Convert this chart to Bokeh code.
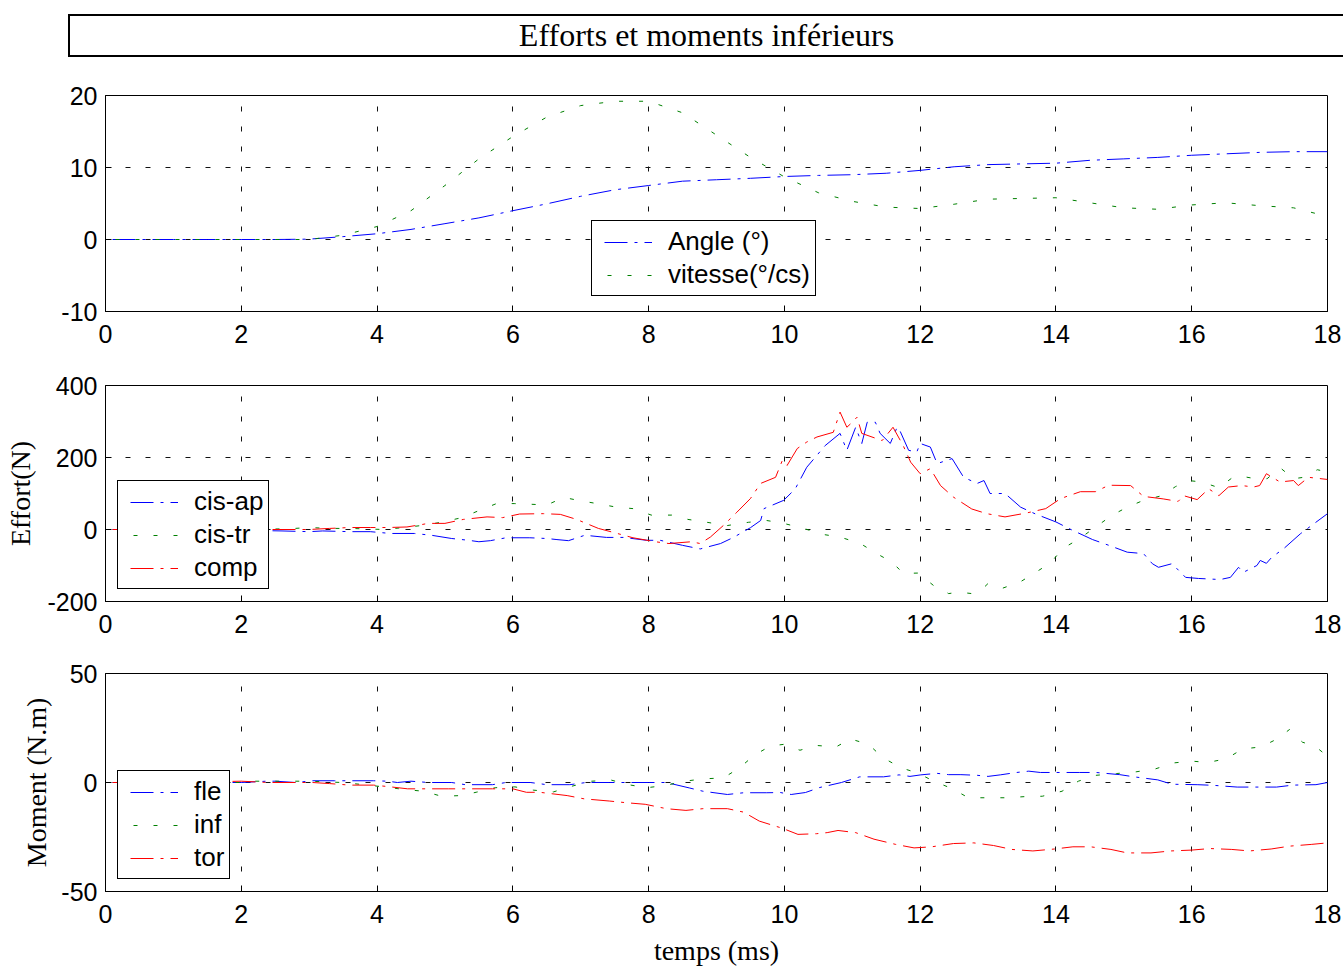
from bokeh.plotting import figure
from bokeh.layouts import column
from bokeh.models import Legend, LegendItem, Range1d, FixedTicker, Div
from bokeh.embed import file_html
from bokeh.resources import INLINE

TITLE = "Efforts et moments inférieurs"
X_TICKS = [0, 2, 4, 6, 8, 10, 12, 14, 16, 18]

# ---- panel 1 : angle / vitesse
T_P1 = [0, 0.5, 1, 1.5, 2, 2.5, 3, 3.5, 4, 4.5, 5, 5.5, 6, 6.5, 7, 7.5, 8, 8.5, 9, 9.5,
        10, 10.5, 11, 11.5, 12, 12.5, 13, 13.5, 14, 14.5, 15, 15.5, 16, 16.5, 17, 17.5, 18]
ANGLE = [0, 0, 0, 0, 0, 0, 0.05, 0.4, 0.8, 1.4, 2.2, 3.0, 4.0, 4.95, 6.0, 6.9, 7.5, 8.1, 8.3, 8.5,
         8.75, 8.9, 9.0, 9.2, 9.6, 10.1, 10.4, 10.5, 10.6, 11.0, 11.2, 11.4, 11.7, 11.9, 12.1, 12.2, 12.2]
VITESSE = [0, 0, 0, 0, 0, 0, 0, 0.6, 1.8, 4.0, 7.5, 11.2, 14.3, 17.0, 18.6, 19.2, 19.2, 17.6, 14.5, 11.4,
           8.7, 6.5, 5.3, 4.5, 4.3, 4.9, 5.6, 5.7, 5.8, 5.1, 4.4, 4.2, 4.8, 5.1, 4.7, 4.4, 3.2]
P1_YTICKS = [-10, 0, 10, 20]

# ---- panel 2 : efforts (N)
T_CISAP = [0, 1, 2, 2.6, 3.0, 3.2, 3.6, 3.9, 4.2, 4.55,
           4.8, 5.1, 5.35, 5.5, 5.67, 5.9, 6.25, 6.5, 6.65, 6.82,
           7.06, 7.38, 7.63, 7.97, 8.17, 8.5, 8.76, 9.06, 9.25, 9.5,
           9.65, 9.7, 9.99, 10.16, 10.33, 10.6, 10.82, 10.92, 11.05, 11.14,
           11.22, 11.34, 11.41, 11.56, 11.66, 11.7, 11.83, 11.95, 12.0, 12.15,
           12.25, 12.47, 12.64, 12.84, 12.94, 13.03, 13.25, 13.48, 13.7, 14.0,
           14.22, 14.54, 14.78, 15.05, 15.29, 15.42, 15.51, 15.71, 15.91, 16.1,
           16.42, 16.57, 16.69, 16.76, 16.96, 17.01, 17.1, 17.18, 17.35, 17.6,
           17.8, 18.0]
CISAP = [0, 0, -2, -4, -6, -4, -6, -6, -11, -11,
         -16, -25, -30, -34, -31, -23, -23, -25, -28, -31,
         -16, -22, -22, -30, -30, -44, -54, -39, -22, 5,
         25, 58, 81, 113, 173, 233, 267, 220, 284, 239,
         298, 298, 267, 239, 284, 275, 220, 215, 239, 229,
         183, 197, 145, 128, 136, 100, 100, 62, 43, 21,
         0, -28, -44, -63, -67, -95, -105, -95, -133, -136,
         -139, -133, -105, -119, -100, -86, -94, -77, -54, -12,
         16, 44]
T_CISTR = [0, 1, 2, 2.7, 3.0, 3.3, 3.6, 4.1, 4.4, 4.7,
           4.97, 5.25, 5.52, 5.76, 6.02, 6.28, 6.5, 6.75, 6.99, 7.24,
           7.5, 7.77, 8.04, 8.34, 8.58, 8.86, 9.16, 9.47, 9.74, 9.99,
           10.28, 10.58, 10.82, 11.12, 11.36, 11.59, 11.75, 11.97, 12.2, 12.42,
           12.57, 12.76, 12.89, 13.0, 13.2, 13.48, 13.92, 14.1, 14.35, 14.6,
           14.83, 15.05, 15.29, 15.56, 15.76, 15.95, 16.15, 16.4, 16.62, 16.76,
           16.94, 17.11, 17.3, 17.5, 17.65, 17.85, 18.0]
CISTR = [0, 0, 0, 2, 5.5, 3, 3, 0, 5.5, 12,
         21, 33, 54, 72, 72, 70, 68, 89, 80, 72,
         63, 58, 40, 40, 28, 20, 11, 20, 25, 17,
         3, -14, -21, -39, -67, -91, -122, -121, -156, -178,
         -174, -178, -170, -150, -164, -145, -93, -53, -25, 9,
         40, 62, 81, 94, 119, 136, 132, 116, 147, 147,
         141, 141, 172, 141, 145, 166, 160]
T_COMP = [0, 1, 2, 2.6, 3.0, 3.3, 3.6, 3.9, 4.15, 4.44,
          4.76, 5.0, 5.27, 5.62, 5.85, 6.1, 6.45, 6.7, 6.94, 7.26,
          7.5, 7.77, 8.1, 8.3, 8.63, 8.76, 8.91, 9.1, 9.3, 9.5,
          9.65, 9.87, 9.97, 10.04, 10.19, 10.33, 10.48, 10.72, 10.82, 10.92,
          11.0, 11.07, 11.14, 11.44, 11.6, 11.75, 11.86, 12.0, 12.15, 12.3,
          12.49, 12.76, 12.98, 13.25, 13.57, 13.85, 14.07, 14.36, 14.58, 14.78,
          15.1, 15.29, 15.58, 15.8, 15.88, 16.08, 16.25, 16.4, 16.54, 16.74,
          16.91, 17.0, 17.1, 17.3, 17.5, 17.57, 17.72, 18.0]
COMP = [0, 0, 0, 0, 0, 3, 5.5, 5.5, 5.5, 7,
        17, 17, 28, 35, 33, 43, 44, 42, 28, 3,
        -9, -23, -34, -39, -34, -39, -21, 11, 48, 86,
        128, 145, 192, 178, 225, 243, 257, 270, 326, 284,
        298, 312, 267, 247, 284, 233, 187, 155, 169, 122,
        90, 57, 44, 35, 46, 58, 86, 105, 105, 123,
        122, 92, 85, 78, 94, 83, 113, 94, 118, 122,
        118, 122, 155, 132, 136, 122, 145, 139]
P2_YTICKS = [-200, 0, 200, 400]

# ---- panel 3 : moments (N.m)
T_FLE = [0, 1, 2, 2.37, 2.5, 2.8, 3.05, 3.37, 3.58, 3.95,
         4.16, 4.3, 4.5, 4.76, 5.1, 5.3, 5.7, 5.9, 6.26, 6.5,
         6.84, 7.08, 7.42, 7.66, 8.0, 8.26, 8.6, 8.8, 9.16, 9.4,
         9.74, 9.94, 10.1, 10.31, 10.52, 10.84, 11.11, 11.46, 11.69, 11.85,
         12.01, 12.25, 12.42, 12.6, 12.84, 13.0, 13.18, 13.42, 13.6, 13.77,
         14.01, 14.35, 14.59, 14.94, 15.15, 15.5, 15.71, 16.08, 16.32, 16.67,
         16.9, 17.25, 17.49, 17.83, 18.0]
FLE = [0, 0, 0, 0.6, 0.6, 0, 0.8, 0.8, 0.8, 0.8,
       0.6, 0, 0.6, 0, 0, -1, -1, 0, 0, -1,
       -1, 0, 0, 0, 0, 0, -2.5, -4, -5.5, -4.7,
       -4.7, -4.6, -5.5, -4.6, -2.3, 0, 2.6, 2.6, 3.5, 2.8,
       3.5, 4.2, 3.6, 3.6, 3.3, 2.8, 3.5, 4.6, 5.2, 4.6,
       4.6, 4.6, 4.6, 3.6, 2.6, 1.2, -0.8, -1, -1.3, -2.1,
       -2.1, -2.1, -1.2, -1.0, 0]
T_INF = [0, 1, 2, 2.05, 2.45, 2.7, 3.0, 3.3, 3.5, 4.1,
         4.4, 4.68, 4.95, 5.24, 5.47, 5.74, 6.03, 6.3, 6.6, 6.87,
         7.16, 7.45, 7.7, 7.97, 8.24, 8.53, 8.82, 9.1, 9.34, 9.55,
         9.79, 9.99, 10.23, 10.47, 10.76, 10.97, 11.24, 11.45, 11.72, 11.96,
         12.2, 12.47, 12.71, 13.0, 13.27, 13.53, 13.8, 14.09, 14.33, 14.59,
         14.89, 15.18, 15.47, 15.74, 16.0, 16.24, 16.51, 16.75, 17.02, 17.26,
         17.44, 17.63, 17.82, 18.0]
INF = [0, 0, 0, 0.6, 0.6, 0.6, 0.6, 0.2, 0, -2,
       -3.2, -4, -6.3, -6, -4.4, -2.4, -2, -3.5, -4.3, -1.7,
       0.6, 1.1, -1, -2.4, -1.4, 0.6, 1.7, 2.1, 6.7, 12.4,
       16.7, 17.5, 14.8, 17, 16.3, 20, 17.5, 11.4, 6.7, 4.4,
       0.6, -2.8, -7, -7, -7, -6.5, -6.3, -4, 0.6, 3.3,
       4.1, 4.9, 6.3, 9, 9.8, 9.2, 10.9, 15.4, 16.3, 20,
       24.3, 18.5, 16.6, 12]
T_TOR = [0, 1, 2, 2.4, 3.05, 3.3, 3.6, 3.95, 4.2, 4.45,
         4.8, 5.05, 5.3, 5.7, 6.0, 6.2, 6.4, 6.8, 7.05, 7.42,
         7.68, 7.95, 8.26, 8.55, 8.8, 9.16, 9.4, 9.63, 9.97, 10.2,
         10.47, 10.63, 10.79, 11.05, 11.32, 11.64, 11.91, 12.17, 12.49, 12.79,
         13.08, 13.35, 13.66, 13.98, 14.25, 14.51, 14.81, 15.05, 15.4, 15.69,
         16.0, 16.27, 16.59, 16.85, 17.17, 17.44, 17.76, 18.0]
TOR = [0, 0, 0.6, 0, 0, -0.5, -1.2, -1.2, -2, -2.9,
       -2.9, -2.9, -2.9, -2.9, -2.9, -4.5, -4.5, -6, -7.5, -8.5,
       -9.3, -10, -12, -12.8, -12, -12, -13.6, -17.7, -21, -23.8,
       -23.5, -23, -22, -23, -26, -28.4, -30, -29.5, -28, -27.7,
       -28.9, -30.7, -31.4, -30.5, -29.5, -29.5, -30.7, -32.3, -32.3, -31.4,
       -31, -30.3, -30.7, -31.4, -30.5, -29.2, -28.4, -27.7]
P3_YTICKS = [-50, 0, 50]

BLUE, GREEN, RED = "#0000ff", "#008000", "#ff0000"
DASHDOT, DOTTED = "23 7 3 7", "4 16"
SANS, SERIF = "Liberation Sans", "Liberation Serif"


def panel(ylo, yhi, yticks, top, frame_h, bottom):
    p = figure(frame_width=1222, frame_height=frame_h,
               min_border_left=105, min_border_right=16,
               min_border_top=top, min_border_bottom=bottom,
               x_range=Range1d(0, 18), y_range=Range1d(ylo, yhi),
               output_backend="svg", toolbar_location=None)
    p.outline_line_color = "black"
    p.outline_line_width = 1
    p.outline_line_alpha = 1
    p.background_fill_color = "white"
    p.border_fill_color = "white"
    p.xaxis.ticker = FixedTicker(ticks=X_TICKS)
    p.yaxis.ticker = FixedTicker(ticks=yticks)
    p.yaxis.major_label_overrides = {v: str(v) for v in yticks}
    for ax in p.axis:
        ax.axis_line_color = "black"
        ax.major_tick_line_color = "black"
        ax.major_tick_in = 6
        ax.major_tick_out = 0
        ax.minor_tick_line_color = None
        ax.major_label_text_font = SANS
        ax.major_label_text_font_size = "25px"
        ax.major_label_text_color = "black"
        ax.axis_label_text_font = SERIF
        ax.axis_label_text_font_size = "28px"
        ax.axis_label_text_font_style = "normal"
        ax.axis_label_text_color = "black"
    p.xaxis.major_label_standoff = 13
    p.yaxis.major_label_standoff = 8
    for g in p.grid:
        g.grid_line_color = "#111111"
        g.grid_line_dash = "5 15"
        g.grid_line_width = 1
    return p


def add_legend(p, items, loc):
    leg = Legend(items=items, location=loc)
    leg.border_line_color = "black"
    leg.border_line_width = 1
    leg.border_line_alpha = 1
    leg.background_fill_color = "white"
    leg.background_fill_alpha = 1
    leg.padding = 5
    leg.spacing = 2
    leg.margin = 0
    leg.glyph_width = 55
    leg.glyph_height = 30
    leg.label_height = 30
    leg.label_standoff = 16
    leg.label_text_font = SANS
    leg.label_text_font_size = "26px"
    leg.label_text_color = "black"
    p.add_layout(leg)


def series(p, t, v, color, dash):
    return p.line(t, v, line_color=color, line_width=1, line_dash=dash,
                  line_dash_offset=(33 if dash == DASHDOT else 10))


# ---- boxed title
title_html = (
    '<div style="padding:14px 0 0 68px;margin:0;">'
    '<div style="box-sizing:content-box;width:1273px;height:39px;margin:0;'
    'border:2px solid #000;border-right:none;font-family:\'Liberation Serif\';'
    'font-size:32px;line-height:39px;text-align:center;color:#000;white-space:nowrap;">'
    + TITLE + '</div></div>'
)
title_div = Div(text=title_html, width=1343, height=62, margin=0)

# ---- panel 1
p1 = panel(-10, 20, P1_YTICKS, 33, 216, 49)
r_ang = series(p1, T_P1, ANGLE, BLUE, DASHDOT)
r_vit = series(p1, T_P1, VITESSE, GREEN, DOTTED)
add_legend(p1, [LegendItem(label="Angle (°)", renderers=[r_ang]),
                LegendItem(label="vitesse(°/cs)", renderers=[r_vit])], (486, 15))

# ---- panel 2
p2 = panel(-200, 400, P2_YTICKS, 25, 216, 49)
p2.yaxis.axis_label = "Effort(N)"
p2.yaxis.axis_label_standoff = 8
r_ap = series(p2, T_CISAP, CISAP, BLUE, DASHDOT)
r_tr = series(p2, T_CISTR, CISTR, GREEN, DOTTED)
r_co = series(p2, T_COMP, COMP, RED, DASHDOT)
add_legend(p2, [LegendItem(label="cis-ap", renderers=[r_ap]),
                LegendItem(label="cis-tr", renderers=[r_tr]),
                LegendItem(label="comp", renderers=[r_co])], (12, 12))

# ---- panel 3
p3 = panel(-50, 50, P3_YTICKS, 23, 218, 79)
p3.yaxis.axis_label = "Moment (N.m)"
p3.yaxis.axis_label_standoff = 6
p3.xaxis.axis_label = "temps (ms)"
p3.xaxis.axis_label_standoff = 9
r_fl = series(p3, T_FLE, FLE, BLUE, DASHDOT)
r_in = series(p3, T_INF, INF, GREEN, DOTTED)
r_to = series(p3, T_TOR, TOR, RED, DASHDOT)
add_legend(p3, [LegendItem(label="fle", renderers=[r_fl]),
                LegendItem(label="inf", renderers=[r_in]),
                LegendItem(label="tor", renderers=[r_to])], (12, 12))

layout = column(title_div, p1, p2, p3, spacing=0)
open("out.html", "w").write(file_html(layout, INLINE))
